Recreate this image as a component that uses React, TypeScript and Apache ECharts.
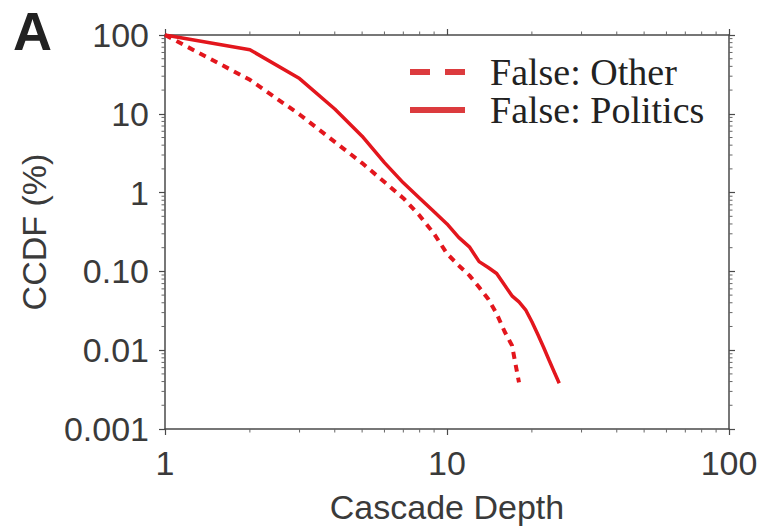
import React, { useEffect, useRef } from "react";
import * as echarts from "echarts";

const depthPolitics = [1, 2, 3, 4, 5, 6, 7, 8, 9, 10, 11, 12, 13, 14, 15, 16, 17, 18, 19, 20, 21, 22, 23, 24, 25];
const ccdfPolitics = [100, 65, 28, 11.5, 5.2, 2.4, 1.33, 0.85, 0.57, 0.4, 0.27, 0.205, 0.133, 0.112, 0.094, 0.067, 0.049, 0.041, 0.0326, 0.023, 0.0158, 0.0109, 0.0075, 0.0053, 0.0038];

const depthOther = [1, 2, 3, 4, 5, 6, 7, 8, 9, 10, 11, 12, 13, 14, 15, 16, 17, 18];
const ccdfOther = [100, 27, 9.8, 4.4, 2.37, 1.36, 0.85, 0.51, 0.3, 0.168, 0.119, 0.089, 0.063, 0.0447, 0.029, 0.0173, 0.0115, 0.0039];

const xTickLabels = ["1", "10", "100"]; // exponents 0..2
const yTickLabels = ["0.001", "0.01", "0.10", "1", "10", "100"]; // exponents -3..2
const xMinorTicks = [2, 3, 4, 5, 6, 7, 8, 9, 20, 30, 40, 50, 60, 70, 80, 90];
const yMinorTicks = [
  0.002, 0.003, 0.004, 0.005, 0.006, 0.007, 0.008, 0.009,
  0.02, 0.03, 0.04, 0.05, 0.06, 0.07, 0.08, 0.09,
  0.2, 0.3, 0.4, 0.5, 0.6, 0.7, 0.8, 0.9,
  2, 3, 4, 5, 6, 7, 8, 9,
  20, 30, 40, 50, 60, 70, 80, 90,
];

const X_MIN = 1, X_MAX = 100, Y_MIN = 0.001, Y_MAX = 100;
const RED = "#e3161d";
const AXIS = "#4a4a4a";
const TEXT = "#3a3a3a";
const SANS = "'Liberation Sans', Arial, sans-serif";
const SERIF = "'Liberation Serif', 'Times New Roman', serif";

export default function App() {
  const ref = useRef<HTMLDivElement>(null);
  useEffect(() => {
    if (!ref.current) return;
    const chart = echarts.init(ref.current, null, { renderer: "svg" });
    const axisLine = { show: true, lineStyle: { color: AXIS, width: 1.5 } };
    const tick = { show: true, inside: false, length: 6, lineStyle: { color: AXIS, width: 1.2 } };
    const xFmt = (v: number) => xTickLabels[Math.round(Math.log10(v))] ?? "";
    const yFmt = (v: number) => yTickLabels[Math.round(Math.log10(v)) + 3] ?? "";
    const tickStyle = { color: "#666", width: 1 };
    chart.setOption({
      animation: false,
      backgroundColor: "#ffffff",
      title: {
        text: "A",
        left: 13,
        top: 4,
        padding: 0,
        textStyle: { fontSize: 54, lineHeight: 54, fontWeight: "bold", fontFamily: "'Liberation Sans Narrow', 'Liberation Sans', sans-serif", color: "#222" },
      },
      grid: { left: 165, right: 38, top: 35, bottom: 96 },
      legend: {
        orient: "vertical",
        left: 405,
        top: 48,
        itemWidth: 55,
        itemHeight: 6,
        itemGap: 0,
        textStyle: { fontFamily: SERIF, fontSize: 38, lineHeight: 37, color: "#222", padding: [0, 0, 0, 20] },
        data: [
          { name: "False: Other", icon: "path://M0,0h20v6h-20z M35,0h20v6h-20z", itemStyle: { color: "#dc3b3e" } },
          { name: "False: Politics", icon: "rect", itemStyle: { color: "#dc3b3e" } },
        ],
      },
      xAxis: [
        {
          type: "log", logBase: 10, min: X_MIN, max: X_MAX, position: "bottom",
          name: "Cascade Depth", nameLocation: "middle", nameGap: 61,
          nameTextStyle: { fontFamily: SANS, fontSize: 34, color: TEXT },
          axisLine, axisTick: tick, splitLine: { show: false },
          axisLabel: { formatter: xFmt, fontFamily: SANS, fontSize: 34, color: TEXT, margin: 17 },
        },
        {
          type: "log", logBase: 10, min: X_MIN, max: X_MAX, position: "top",
          axisLine, axisTick: tick, splitLine: { show: false }, axisLabel: { show: false },
        },
      ],
      yAxis: [
        {
          type: "log", logBase: 10, min: Y_MIN, max: Y_MAX, position: "left", splitNumber: 5,
          name: "CCDF (%)", nameLocation: "middle", nameGap: 114,
          nameTextStyle: { fontFamily: SANS, fontSize: 34, color: TEXT },
          axisLine, axisTick: tick, splitLine: { show: false },
          axisLabel: { formatter: yFmt, fontFamily: SANS, fontSize: 34, color: TEXT, margin: 16 },
        },
        {
          type: "log", logBase: 10, min: Y_MIN, max: Y_MAX, position: "right", splitNumber: 5,
          axisLine, axisTick: tick, splitLine: { show: false }, axisLabel: { show: false },
        },
      ],
      series: [
        {
          name: "False: Other",
          type: "line",
          xAxisIndex: 0, yAxisIndex: 0,
          data: depthOther.map((d, i) => [d, ccdfOther[i]]),
          showSymbol: false, symbol: "none",
          lineStyle: { color: RED, width: 4, type: [7, 6] },
          itemStyle: { color: RED },
          z: 3,
        },
        {
          name: "False: Politics",
          type: "line",
          xAxisIndex: 0, yAxisIndex: 0,
          data: depthPolitics.map((d, i) => [d, ccdfPolitics[i]]),
          showSymbol: false, symbol: "none",
          lineStyle: { color: RED, width: 3.5 },
          itemStyle: { color: RED },
          z: 3,
        },
        {
          name: "xMinor",
          type: "custom",
          xAxisIndex: 0, yAxisIndex: 0,
          silent: true,
          clip: false,
          data: xMinorTicks.map((v) => [v, 1]),
          renderItem: (_p: any, api: any) => {
            const v = api.value(0);
            const b = api.coord([v, Y_MIN]);
            const t = api.coord([v, Y_MAX]);
            return {
              type: "group",
              children: [
                { type: "line", shape: { x1: b[0], y1: b[1], x2: b[0], y2: b[1] + 3.5 }, style: { stroke: tickStyle.color, lineWidth: tickStyle.width } },
                { type: "line", shape: { x1: t[0], y1: t[1], x2: t[0], y2: t[1] - 3.5 }, style: { stroke: tickStyle.color, lineWidth: tickStyle.width } },
              ],
            };
          },
        },
        {
          name: "yMinor",
          type: "custom",
          xAxisIndex: 0, yAxisIndex: 0,
          silent: true,
          clip: false,
          data: yMinorTicks.map((v) => [1, v]),
          renderItem: (_p: any, api: any) => {
            const v = api.value(1);
            const l = api.coord([X_MIN, v]);
            const r = api.coord([X_MAX, v]);
            return {
              type: "group",
              children: [
                { type: "line", shape: { x1: l[0], y1: l[1], x2: l[0] - 3.5, y2: l[1] }, style: { stroke: tickStyle.color, lineWidth: tickStyle.width } },
                { type: "line", shape: { x1: r[0], y1: r[1], x2: r[0] + 3.5, y2: r[1] }, style: { stroke: tickStyle.color, lineWidth: tickStyle.width } },
              ],
            };
          },
        },
      ],
    });
    return () => chart.dispose();
  }, []);
  return <div ref={ref} style={{ width: 767, height: 529, position: "absolute", left: 0, top: 0 }} />;
}
